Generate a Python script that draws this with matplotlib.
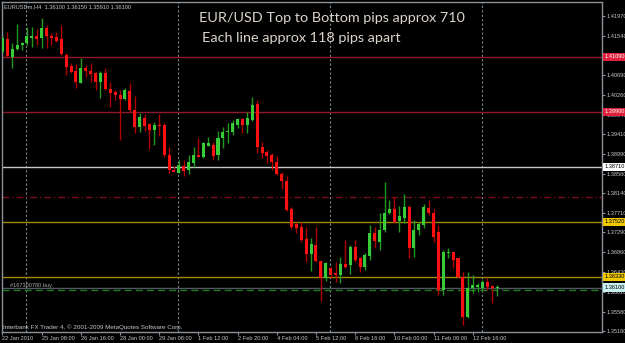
import matplotlib
matplotlib.use('Agg')
import matplotlib.pyplot as plt
import matplotlib.transforms as mtransforms
import numpy as np

plt.rcParams['font.family'] = ['Liberation Sans', 'DejaVu Sans']

# EURUSDm H4 bars, 22 Jan 2010 04:00 .. 15 Feb 2010 08:00
opens = [1.4119, 1.4147, 1.4108, 1.4126, 1.4134, 1.4139, 1.4149, 1.4154, 1.4149, 1.4171,
         1.4154, 1.4152, 1.4147, 1.4113, 1.4089, 1.4078, 1.4052, 1.4085, 1.4078, 1.4074,
         1.4054, 1.4074, 1.4039, 1.4033, 1.4026, 1.4018, 1.4035, 1.3994, 1.3957, 1.3976,
         1.3964, 1.3951, 1.3961, 1.3961, 1.3896, 1.3864, 1.3858, 1.3873, 1.3864, 1.3879,
         1.3896, 1.3892, 1.3916, 1.3918, 1.3896, 1.3933, 1.3946, 1.3946, 1.3961, 1.3974,
         1.3961, 1.3972, 1.4007, 1.3914, 1.3903, 1.3896, 1.3881, 1.3855, 1.3840, 1.3780,
         1.3747, 1.3741, 1.3715, 1.3682, 1.3702, 1.3667, 1.3631, 1.3652, 1.3641, 1.3637,
         1.3661, 1.3659, 1.3698, 1.3674, 1.3654, 1.3678, 1.3728, 1.3708, 1.3734, 1.3771,
         1.3780, 1.3754, 1.3760, 1.3784, 1.3695, 1.3734, 1.3745, 1.3782, 1.3771, 1.3730,
         1.3605, 1.3684, 1.3687, 1.3674, 1.3633, 1.3546, 1.3609, 1.3611, 1.3609, 1.3622,
         1.3613, 1.3610]
highs = [1.4156, 1.4162, 1.4139, 1.4180, 1.4141, 1.4173, 1.4173, 1.4169, 1.4193, 1.4178,
         1.4160, 1.4162, 1.4178, 1.4117, 1.4095, 1.4093, 1.4106, 1.4091, 1.4095, 1.4076,
         1.4078, 1.4085, 1.4054, 1.4037, 1.4037, 1.4041, 1.4052, 1.4024, 1.3987, 1.3985,
         1.3966, 1.3968, 1.3985, 1.3966, 1.3914, 1.3873, 1.3886, 1.3886, 1.3896, 1.3914,
         1.3933, 1.3925, 1.3935, 1.3925, 1.3948, 1.3957, 1.3966, 1.3972, 1.3976, 1.3976,
         1.3989, 1.4022, 1.4015, 1.3925, 1.3907, 1.3901, 1.3894, 1.3860, 1.3851, 1.3784,
         1.3752, 1.3752, 1.3741, 1.3717, 1.3741, 1.3670, 1.3665, 1.3654, 1.3665, 1.3676,
         1.3713, 1.3702, 1.3713, 1.3676, 1.3685, 1.3745, 1.3741, 1.3771, 1.3838, 1.3799,
         1.3806, 1.3786, 1.3812, 1.3788, 1.3756, 1.3752, 1.3791, 1.3799, 1.3780, 1.3745,
         1.3691, 1.3695, 1.3687, 1.3674, 1.3644, 1.3644, 1.3637, 1.3620, 1.3626, 1.3631,
         1.3615, 1.3615]
lows = [1.4117, 1.4108, 1.4085, 1.4124, 1.4124, 1.4134, 1.4130, 1.4134, 1.4128, 1.4128,
        1.4134, 1.4141, 1.4113, 1.4069, 1.4074, 1.4041, 1.4052, 1.4065, 1.4054, 1.4037,
        1.4020, 1.4037, 1.4000, 1.4015, 1.3929, 1.4015, 1.3989, 1.3944, 1.3946, 1.3948,
        1.3909, 1.3918, 1.3938, 1.3892, 1.3858, 1.3860, 1.3858, 1.3851, 1.3855, 1.3871,
        1.3892, 1.3890, 1.3916, 1.3886, 1.3886, 1.3912, 1.3922, 1.3940, 1.3955, 1.3944,
        1.3944, 1.3970, 1.3901, 1.3890, 1.3879, 1.3864, 1.3853, 1.3823, 1.3775, 1.3736,
        1.3728, 1.3708, 1.3665, 1.3646, 1.3665, 1.3581, 1.3624, 1.3631, 1.3622, 1.3620,
        1.3652, 1.3639, 1.3665, 1.3644, 1.3648, 1.3670, 1.3695, 1.3691, 1.3730, 1.3769,
        1.3749, 1.3730, 1.3749, 1.3674, 1.3676, 1.3724, 1.3739, 1.3767, 1.3708, 1.3594,
        1.3594, 1.3674, 1.3652, 1.3631, 1.3529, 1.3544, 1.3598, 1.3600, 1.3605, 1.3605,
        1.3576, 1.3591]
closes = [1.4149, 1.4111, 1.4126, 1.4134, 1.4139, 1.4154, 1.4154, 1.4147, 1.4171, 1.4154,
          1.4149, 1.4143, 1.4115, 1.4087, 1.4076, 1.4054, 1.4085, 1.4078, 1.4072, 1.4054,
          1.4074, 1.4039, 1.4031, 1.4026, 1.4018, 1.4037, 1.3994, 1.3957, 1.3979, 1.3959,
          1.3951, 1.3961, 1.3959, 1.3896, 1.3864, 1.3860, 1.3875, 1.3862, 1.3881, 1.3896,
          1.3892, 1.3922, 1.3922, 1.3894, 1.3933, 1.3946, 1.3948, 1.3966, 1.3974, 1.3961,
          1.3976, 1.4005, 1.3914, 1.3901, 1.3894, 1.3881, 1.3855, 1.3840, 1.3778, 1.3741,
          1.3739, 1.3713, 1.3682, 1.3704, 1.3667, 1.3631, 1.3663, 1.3637, 1.3637, 1.3661,
          1.3654, 1.3698, 1.3670, 1.3654, 1.3680, 1.3728, 1.3711, 1.3734, 1.3771, 1.3780,
          1.3752, 1.3765, 1.3784, 1.3695, 1.3734, 1.3747, 1.3784, 1.3771, 1.3720, 1.3605,
          1.3687, 1.3687, 1.3670, 1.3633, 1.3546, 1.3609, 1.3615, 1.3615, 1.3622, 1.3611,
          1.3609, 1.3610]

week_starts = [5, 36, 67, 98]  # sunday bars -> period separators
date_pos = [0, 8, 16, 24, 32, 40, 48, 56, 64, 72, 80, 88, 96]
date_labels = ['22 Jan 2010', '25 Jan 08:00', '26 Jan 16:00', '28 Jan 00:00', '29 Jan 08:00',
               '1 Feb 12:00', '2 Feb 20:00', '4 Feb 04:00', '5 Feb 12:00', '8 Feb 16:00',
               '10 Feb 00:00', '11 Feb 08:00', '12 Feb 16:00']
price_ticks = [1.41970, 1.41540, 1.41110, 1.40690, 1.40260, 1.39840, 1.39410, 1.38990,
               1.38560, 1.38140, 1.37710, 1.37290, 1.36860, 1.36430, 1.36010, 1.35580, 1.35160]

levels = [1.4109, 1.3990, 1.3871, 1.3752, 1.3633]
level_colors = ['#8c1a2c', '#8c1a2c', '#c8c8c8', '#a08a00', '#a08a00']
level_box = ['#e0203c', '#e0203c', '#ffffff', '#f0c800', '#f0c800']
level_txt = ['white', 'white', 'black', 'black', 'black']
stop_level = 1.3805
bid = 1.3610
order_price = 1.3604
order_name = '#167300780 buy'

small = 4.1

fig = plt.figure(figsize=(6.25, 3.43), dpi=100, facecolor='black')
ax = fig.add_axes([2/625, 11/343, 600/625, 330/343])
ax.set_facecolor('black')

o = np.array(opens); h = np.array(highs); l = np.array(lows); c = np.array(closes)
x = np.arange(len(o))
up = c >= o
wick_col = np.where(up, '#1f9a1f', '#b00000')
body_col = np.where(up, '#38cc38', '#ff1010')
ax.vlines(x, l, h, colors=wick_col, lw=1)
lo = np.minimum(o, c)
hh = np.maximum(np.abs(c - o), 0.00012)
ax.bar(x, hh, bottom=lo, width=0.62, color=body_col, lw=0, zorder=3)

# horizontal levels
for lv, col in zip(levels, level_colors):
    ax.axhline(lv, color=col, lw=1, zorder=1)
ax.axhline(stop_level, color='#7a0c18', lw=1, ls=(0, (5, 2, 1, 2)), zorder=1)
ax.axhline(bid, color='#505860', lw=1, zorder=1)
ax.axhline(order_price, color='#1f7a1f', lw=1, ls=(0, (5, 3)), zorder=1)
ax.text(1.5, order_price + 0.00045, order_name, color='#a8a8a8', fontsize=small, va='bottom')

for ws in week_starts:
    ax.axvline(ws - 0.2, color='#7a8a8a', lw=0.8, ls=(0, (2, 2)), zorder=0)

ax.set_xlim(-0.1, 122.4)
ax.set_ylim(1.35138, 1.42273)

for sp in ax.spines.values():
    sp.set_color('#8a9098')
    sp.set_linewidth(1)

ax.yaxis.tick_right()
ax.set_yticks(price_ticks)
ax.set_yticklabels(['%.5f' % p for p in price_ticks])
ax.set_xticks(date_pos)
ax.set_xticklabels(date_labels)
for t in ax.get_xticklabels():
    t.set_ha('left')
ax.tick_params(axis='both', colors='#8a9098', labelcolor='#c8c8c8', labelsize=small,
               length=2, width=0.8, pad=1)

trans = mtransforms.blended_transform_factory(ax.transAxes, ax.transData)
for lv, bg, fg in zip(levels, level_box, level_txt):
    ax.text(1.004, lv, '%.5f' % lv, transform=trans, fontsize=small, color=fg, va='center',
            ha='left', clip_on=False, zorder=5,
            bbox=dict(boxstyle='square,pad=0.3', fc=bg, ec='none'))
ax.text(1.004, bid, '%.5f' % bid, transform=trans, fontsize=small, color='black', va='center',
        ha='left', clip_on=False, zorder=5,
        bbox=dict(boxstyle='square,pad=0.3', fc='#c8f0f0', ec='none'))

fig.text(4/625, 1 - 7/343, 'EURUSDm,H4  1.36100 1.36150 1.35910 1.36100',
         color='#c8c8c8', fontsize=small, va='center')
fig.text(3/625, 1 - 327/343, 'Interbank FX Trader 4, \u00a9 2001-2009 MetaQuotes Software Corp.',
         color='#c8c8c8', fontsize=4.5, va='center')
fig.text(199/625, 1 - 18/343, 'EUR/USD Top to Bottom pips approx 710',
         color='#ddd5cc', fontsize=10.4, va='center', family='Lato')
fig.text(202/625, 1 - 38/343, 'Each line approx 118 pips apart',
         color='#ddd5cc', fontsize=10.4, va='center', family='Lato')

fig.savefig('out.png', dpi=100, facecolor='black')
